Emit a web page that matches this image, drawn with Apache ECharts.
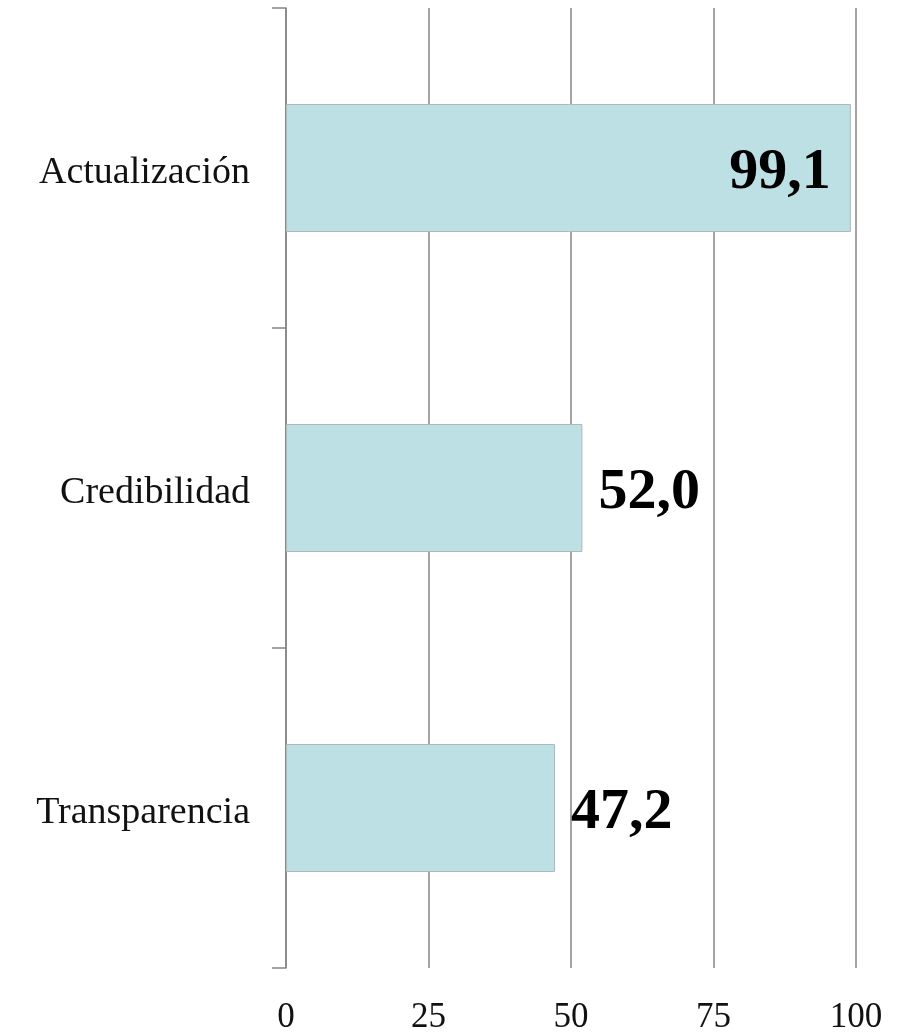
<!DOCTYPE html>
<html>
<head>
<meta charset="utf-8">
<script src="https://cdn.jsdelivr.net/npm/echarts@6/dist/echarts.min.js"></script>
<style>
  html, body { margin: 0; padding: 0; background: #fff; }
  #chart { width: 900px; height: 1035px; }
</style>
</head>
<body>
<div id="chart"></div>
<script>
const categories = ['Actualización', 'Credibilidad', 'Transparencia']
const values = [99.1, 52.0, 47.2]
const xTicks = [0, 25, 50, 75, 100]

const chart = echarts.init(document.getElementById('chart'))
const serif = '"Liberation Serif", "DejaVu Serif", serif'

const seriesData = values.map(v => ({
  value: v,
  // the long bar carries its label inside, the short ones beside the end
  label: v > 90
    ? { position: 'insideRight', distance: 20 }
    : { position: 'right', distance: 16 }
}))

chart.setOption({
  backgroundColor: '#fff',
  animation: false,
  grid: { left: 286, right: 44, top: 8, bottom: 67, outerBoundsMode: 'none' },
  xAxis: {
    type: 'value',
    min: xTicks[0],
    max: xTicks[xTicks.length - 1],
    interval: xTicks[1] - xTicks[0],
    axisLine: { show: false },
    axisTick: { show: false },
    axisLabel: {
      color: '#111',
      fontFamily: serif,
      fontSize: 35,
      margin: 32
    },
    splitLine: { lineStyle: { color: '#858585', width: 1.5 } }
  },
  yAxis: {
    type: 'category',
    data: categories,
    inverse: true,
    axisLine: { lineStyle: { color: '#858585', width: 1.5 } },
    axisTick: { show: true, length: 14, lineStyle: { color: '#858585', width: 1.5 } },
    axisLabel: {
      color: '#111',
      fontFamily: serif,
      fontSize: 38,
      margin: 36,
      formatter: v => '{c|' + v + '}',
      rich: { c: { fontFamily: serif, fontSize: 38, color: '#111', padding: [10, 0, 0, 0] } }
    }
  },
  series: [{
    type: 'bar',
    data: seriesData,
    barCategoryGap: '60%',
    itemStyle: { color: '#bce0e3', borderColor: '#b0b8b9', borderWidth: 1 },
    label: {
      show: true,
      color: '#000',
      fontFamily: serif,
      fontWeight: 'bold',
      fontSize: 58,
      offset: [0, 5],
      formatter: p => p.value.toFixed(1).replace('.', ',')
    }
  }]
})
</script>
</body>
</html>
